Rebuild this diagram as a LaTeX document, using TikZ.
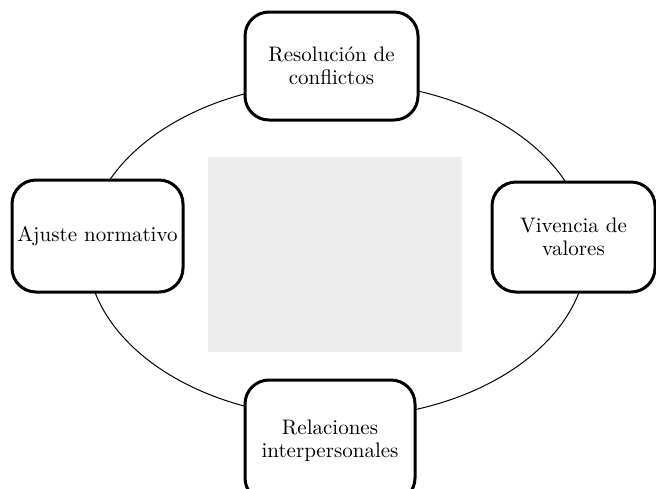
\documentclass[tikz,border=0pt]{standalone}
\usepackage{tikz}
\usetikzlibrary{calc}
\tikzset{>=latex}
\tikzset{
  aspecto/.style={draw, line width=1.5pt, rounded corners=12pt, fill=white,
    align=center, font=\fontsize{10.5}{11.5}\selectfont, inner sep=2pt},
  ciclo/.style={draw, line width=0.5pt},
  textura/.style={fill=black!7}
}

\begin{document}
\begin{tikzpicture}[x=0.5pt,y=-0.5pt]
  \useasboundingbox (0,0) rectangle (656,488);
  % Vertices
  \coordinate (c) at (337,250);
  \coordinate (t1) at (208,157);
  \coordinate (t2) at (462,352);
  \coordinate (pr) at (331.5,66);
  \coordinate (pa) at (97.5,236);
  \coordinate (pv) at (573.5,237);
  \coordinate (pi) at (330,441);

  % Lines
  \draw[ciclo] (c) ellipse [x radius=250, y radius=168];
  \fill[textura] (t1) rectangle (t2);

  % Labels
  \node[aspecto, minimum width=86.5pt, minimum height=54pt] (res) at (pr)
    {Resoluci\'on de\\conflictos};
  \node[aspecto, minimum width=85.5pt, minimum height=56pt] (aju) at (pa)
    {Ajuste normativo};
  \node[aspecto, minimum width=81.5pt, minimum height=55pt] (viv) at (pv)
    {Vivencia de\\valores};
  \node[aspecto, minimum width=85pt, minimum height=61pt] (rel) at (pi)
    {Relaciones\\interpersonales};
\end{tikzpicture}
\end{document}
